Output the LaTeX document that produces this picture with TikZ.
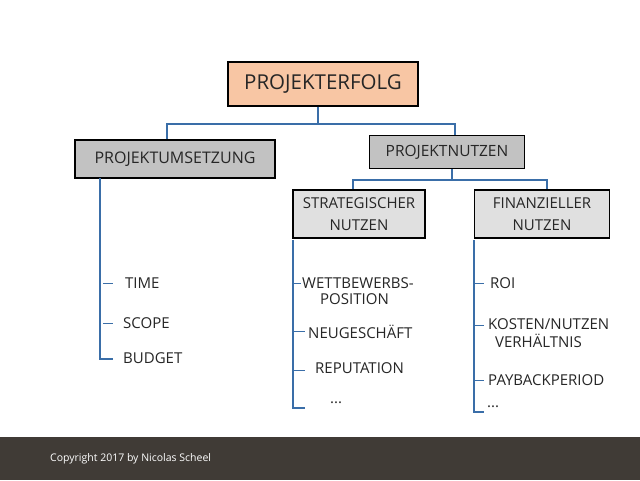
\documentclass[tikz,border=0pt]{standalone}
\usepackage{fontspec}
\setmainfont{Open Sans}
\definecolor{orangebox}{HTML}{F8C6A4}
\definecolor{graybox}{HTML}{C2C2C2}
\definecolor{lightbox}{HTML}{E0E0E0}
\definecolor{conncol}{HTML}{3A6EA8}
\definecolor{bandcol}{HTML}{403B36}
\tikzset{
  box/.style={draw=black, line width=1.4pt, inner sep=0pt, align=center, text=black!85},
  conn/.style={draw=conncol, line width=1.1pt},
  tick/.style={draw=conncol, line width=1pt},
  item/.style={anchor=west, inner sep=0pt, align=left, font=\fontsize{15}{18}\selectfont, text=black!85},
}
\begin{document}
\begin{tikzpicture}[x=1pt,y=-1pt]
\useasboundingbox (0,0) rectangle (640,480);
\fill[white] (0,0) rectangle (640,480);
\fill[bandcol] (0,437) rectangle (640,480);
\node[anchor=west, text=white, font=\fontsize{10.5}{12}\selectfont, inner sep=0pt] (copy) at (50,459) {Copyright 2017 by Nicolas Scheel};

% boxes
\node[box, fill=orangebox, minimum width=190pt, minimum height=44pt, font=\fontsize{20.5}{24}\selectfont] (pe) at (323,84) {PROJEKTERFOLG};
\node[box, fill=graybox, minimum width=200pt, minimum height=38pt, font=\fontsize{16}{19}\selectfont] (pu) at (175,159) {PROJEKTUMSETZUNG};
\node[box, fill=graybox, minimum width=155pt, minimum height=33pt, font=\fontsize{15.5}{18}\selectfont] (pn) at (447,152) {PROJEKTNUTZEN};
\node[box, fill=lightbox, minimum width=132pt, minimum height=48pt, font=\fontsize{15}{22}\selectfont] (sn) at (359,214) {STRATEGISCHER\\NUTZEN};
\node[box, fill=lightbox, minimum width=135pt, minimum height=48pt, font=\fontsize{15}{22}\selectfont] (fn) at (542,214) {FINANZIELLER\\NUTZEN};

% tree connectors
\coordinate (j1) at (318,124);
\coordinate (j2) at (452,180);
\draw[conn] (pe.south -| j1) -- (j1);
\draw[conn] (pu.north -| 167,0) |- (j1) -| (pn.north -| 455,0);
\draw[conn] (pn.south -| j2) -- (j2);
\draw[conn] (sn.north -| 353,0) |- (j2) -| (fn.north -| 547,0);

% Projektumsetzung list
\coordinate (a0) at (100,178);
\coordinate (a1) at (100,283);
\coordinate (a2) at (100,323);
\coordinate (a3) at (100,359);
\draw[conn] (a0) -- (a3) -- ++(13,0);
\draw[tick] (a1) ++(3,0) -- ++(10,0);
\draw[tick] (a2) ++(3,0) -- ++(10,0);
\node[item] (t1) at (125,283) {TIME};
\node[item] (t2) at (123,323) {SCOPE};
\node[item] (t3) at (123,358) {BUDGET};

% Strategischer Nutzen list
\coordinate (b0) at (293,240);
\coordinate (b1) at (293,283);
\coordinate (b2) at (293,331);
\coordinate (b3) at (293,370);
\coordinate (b4) at (293,408);
\draw[conn] (b0) -- (b4) -- ++(12,0);
\draw[tick] (b1) -- ++(8,0);
\draw[tick] (b2) -- ++(12,0);
\draw[tick] (b3) -- ++(12,0);
\node[item] (s1) at (302,283) {WETTBEWERBS-};
\node[item] (s1b) at (320,299) {POSITION};
\node[item] (s2) at (308,332) {NEUGESCHÄFT};
\node[item] (s3) at (315,368) {REPUTATION};
\node[item] (s4) at (330,403) {...};

% Finanzieller Nutzen list
\coordinate (c0) at (474,240);
\coordinate (c1) at (474,283);
\coordinate (c2) at (474,325);
\coordinate (c3) at (474,380);
\coordinate (c4) at (474,412);
\draw[conn] (c0) -- (c4) -- ++(10,0);
\draw[tick] (c1) -- ++(10,0);
\draw[tick] (c2) -- ++(10,0);
\draw[tick] (c3) -- ++(10,0);
\node[item] (f1) at (490,283) {ROI};
\node[item] (f2) at (488,324) {KOSTEN/NUTZEN};
\node[item] (f2b) at (495,341) {VERHÄLTNIS};
\node[item] (f3) at (488,380) {PAYBACKPERIOD};
\node[item] (f4) at (487,407) {...};
\end{tikzpicture}
\end{document}
